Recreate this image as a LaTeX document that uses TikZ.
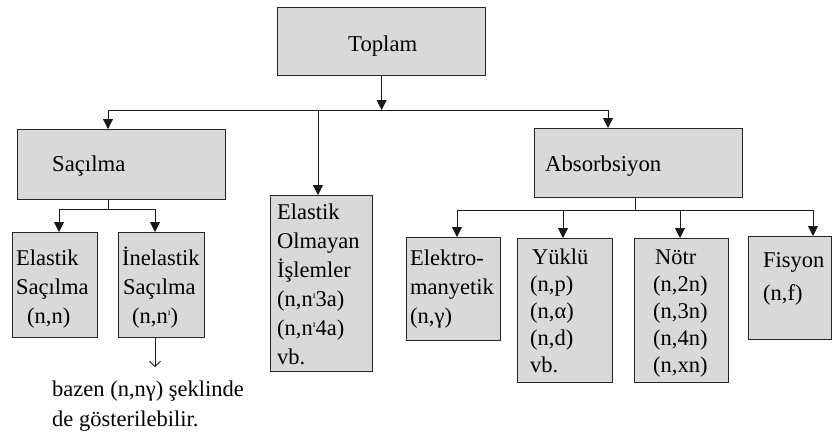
\documentclass[tikz,border=0pt]{standalone}
\usepackage{fontspec}
\setmainfont{Liberation Serif}
\usetikzlibrary{arrows.meta}
\newcommand{\nprm}{n\raisebox{0.75ex}{\fontsize{10}{10}\selectfont ı}}
\begin{document}
\begin{tikzpicture}[x=1pt,y=-1pt,
  box/.style={draw=black!85, line width=1.3pt, fill=black!15, inner sep=0pt, anchor=north west},
  txt/.style={inner sep=0pt, anchor=base west, align=left},
  conn/.style={line width=0.9pt, draw=black!90},
  arr/.style={conn, -{Triangle[length=10pt,width=10pt]}},
]
\useasboundingbox (0,0) rectangle (833,432);
% boxes
\node[box, minimum width=208pt, minimum height=68pt]  (top)  at (277,7)   {};
\node[box, minimum width=208pt, minimum height=70pt]  (sac)  at (17,129)  {};
\node[box, minimum width=208pt, minimum height=69pt]  (abs)  at (534,128) {};
\node[box, minimum width=102pt, minimum height=176pt] (elo)  at (270,195) {};
\node[box, minimum width=85pt,  minimum height=105pt] (es)   at (12,232)  {};
\node[box, minimum width=86pt,  minimum height=105pt] (ines) at (118,232) {};
\node[box, minimum width=94pt,  minimum height=103pt] (em)   at (406,237) {};
\node[box, minimum width=95pt,  minimum height=144pt] (yuk)  at (517,238) {};
\node[box, minimum width=94pt,  minimum height=144pt] (notr) at (634,238) {};
\node[box, minimum width=83pt,  minimum height=103pt] (fis)  at (748,236) {};
% texts (multi-line nodes: base = last line's baseline)
\node[txt, font=\fontsize{22.7}{29}\selectfont] (ttop) at (348,51) {Toplam};
\node[txt, font=\fontsize{22.7}{29}\selectfont] (tsac) at (52,171) {Saçılma};
\node[txt, font=\fontsize{22.7}{29}\selectfont] (tabs) at (545,171) {Absorbsiyon};
\node[txt, font=\fontsize{22.5}{29}\selectfont] (telo) at (277,364) {Elastik\\Olmayan\\İşlemler\\(n,\nprm3a)\\(n,\nprm4a)\\vb.};
\node[txt, font=\fontsize{22.5}{29}\selectfont] (tes) at (16,323) {Elastik\\Saçılma\\\hspace*{11pt}(n,n)};
\node[txt, font=\fontsize{22.5}{29}\selectfont] (tines) at (122,323) {İnelastik\\\hspace*{1pt}Saçılma\\\hspace*{10pt}(n,\nprm)};
\node[txt, font=\fontsize{22.5}{29}\selectfont] (tem) at (410,323) {Elektro-\\manyetik\\(n,γ)};
\node[txt, font=\fontsize{22.5}{27}\selectfont] (tyuk) at (530,372) {\hspace*{2pt}Yüklü\\(n,p)\\(n,α)\\(n,d)\\vb.};
\node[txt, font=\fontsize{22.5}{27}\selectfont] (tnotr) at (653,372) {\hspace*{2pt}Nötr\\(n,2n)\\(n,3n)\\(n,4n)\\(n,xn)};
\node[txt, font=\fontsize{22.5}{33}\selectfont] (tfis) at (763,300) {Fisyon\\(n,f)};
\node[txt, font=\fontsize{22.5}{30}\selectfont] (tnote) at (52,426) {bazen (n,nγ) şeklinde\\de gösterilebilir.};
% connectors
\coordinate (busL) at (108,110);
\coordinate (busM) at (318,110);
\coordinate (busR) at (608,110);
\draw[arr] (top.south) -- (top.south |- busL);
\draw[conn] (busL) -- (busR);
\draw[arr] (busL) -- (busL |- sac.north);
\draw[arr] (busM) -- (busM |- elo.north);
\draw[arr] (busR) -- (busR |- abs.north);
\coordinate (sb) at (108,209);
\coordinate (sL) at (59,209);
\coordinate (sR) at (155,209);
\draw[conn] (sb |- sac.south) -- (sb);
\draw[conn] (sL) -- (sR);
\draw[arr] (sL) -- (sL |- es.north);
\draw[arr] (sR) -- (sR |- ines.north);
\coordinate (ab) at (635,210);
\coordinate (a1) at (457,210);
\coordinate (a2) at (563,210);
\coordinate (a3) at (680,210);
\coordinate (a4) at (813,210);
\draw[conn] (ab |- abs.south) -- (ab);
\draw[conn] (a1) -- (a4);
\draw[arr] (a1) -- (a1 |- em.north);
\draw[arr] (a2) -- (a2 |- yuk.north);
\draw[arr] (a3) -- (a3 |- notr.north);
\draw[arr] (a4) -- (a4 |- fis.north);
\coordinate (ind) at (155,367);
\draw[conn, -{Straight Barb[length=5pt,width=11pt]}] (sR |- ines.south) -- (ind);
\end{tikzpicture}
\end{document}
